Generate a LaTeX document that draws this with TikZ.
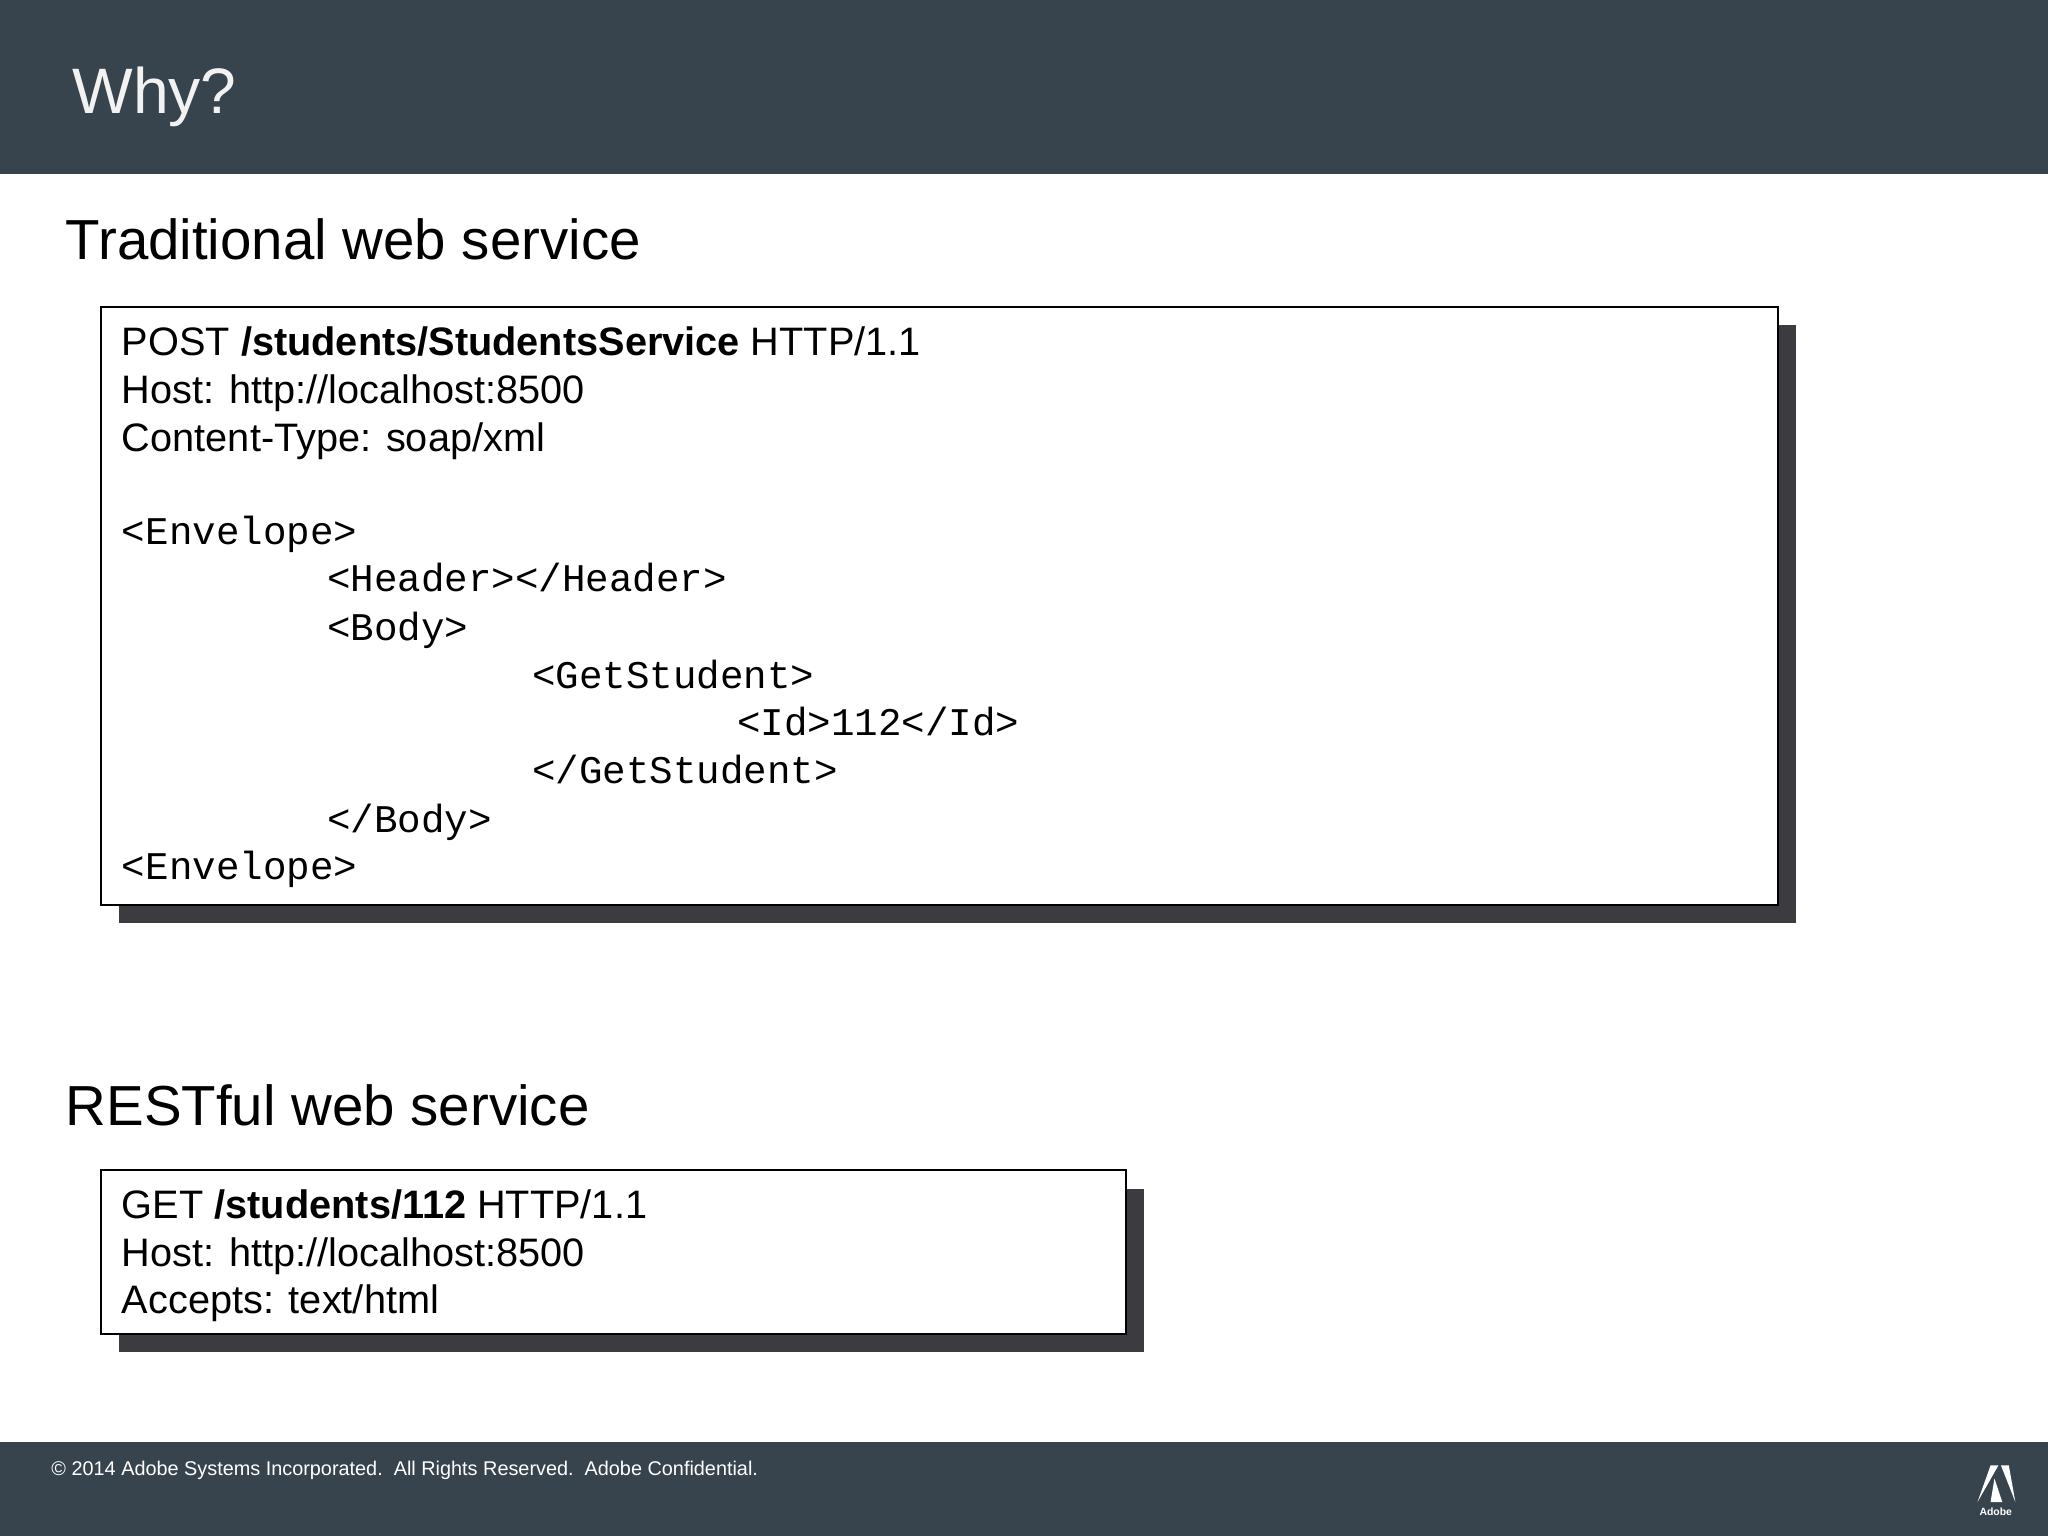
\documentclass[tikz,border=0pt]{standalone}
\usepackage{fontspec}
\setmainfont{Liberation Sans}
\setmonofont{Liberation Mono}
\definecolor{band}{HTML}{37434D}
\definecolor{boxshadow}{HTML}{3C3B40}
\begin{document}
\begin{tikzpicture}[x=0.5pt,y=-0.5pt,
  txt/.style={anchor=base west,inner sep=0pt,font=\fontsize{15.2}{18}\selectfont},
  code/.style={anchor=base west,inner sep=0pt,font=\ttfamily\fontsize{15}{18}\selectfont},
  head/.style={anchor=base west,inner sep=0pt,font=\fontsize{21.6}{26}\selectfont},
  box/.style={draw=black,line width=0.8pt,fill=white}]
\useasboundingbox (0,0) rectangle (1568,1176);
\fill[white] (0,0) rectangle (1568,1176);
\fill[band] (0,0) rectangle (1568,133);
\fill[band] (0,1104) rectangle (1568,1176);
\node[anchor=base west,inner sep=0pt,text=white!90!gray,font=\fontsize{24.6}{30}\selectfont] (why) at (55,87) {Why?};
\node[head] (h1) at (50,199) {Traditional web service};
\fill[boxshadow] (91,249) rectangle (1375,707);
\draw[box] (77,235) rectangle (1361,693);
\node[txt] (l1) at (93,272) {POST \textbf{/students/StudentsService} HTTP/1.1};
\node[txt] (l2) at (93,309) {Host: http://localhost:8500};
\node[txt] (l3) at (93,346) {Content-Type: soap/xml};
\node[code] (c1) at (93,417) {<Envelope>};
\node[code] (c2) at (250,453) {<Header></Header>};
\node[code] (c3) at (250,490) {<Body>};
\node[code] (c4) at (407,527) {<GetStudent>};
\node[code] (c5) at (564,563) {<Id>112</Id>};
\node[code] (c6) at (407,600) {</GetStudent>};
\node[code] (c7) at (250,637) {</Body>};
\node[code] (c8) at (93,673) {<Envelope>};
\node[head] (h2) at (50,862) {RESTful web service};
\fill[boxshadow] (91,910) rectangle (876,1035);
\draw[box] (77,896) rectangle (862,1021);
\node[txt] (r1) at (93,933) {GET \textbf{/students/112} HTTP/1.1};
\node[txt] (r2) at (93,970) {Host: http://localhost:8500};
\node[txt] (r3) at (93,1006) {Accepts: text/html};
\node[anchor=base west,inner sep=0pt,text=white,font=\fontsize{7.6}{9}\selectfont] (foot) at (39,1130) {© 2014 Adobe Systems Incorporated.\ \ All Rights Reserved.\ \ Adobe Confidential.};
\fill[white] (1514,1150) -- (1524,1122) -- (1530,1122) -- cycle;
\fill[white] (1532,1122) -- (1538,1122) -- (1543,1150) -- cycle;
\fill[white] (1527,1132) -- (1533,1150) -- (1524,1150) -- cycle;
\node[anchor=base,inner sep=0pt,text=white,font=\bfseries\fontsize{4}{5}\selectfont] (logo) at (1528,1160) {Adobe};
\end{tikzpicture}
\end{document}
